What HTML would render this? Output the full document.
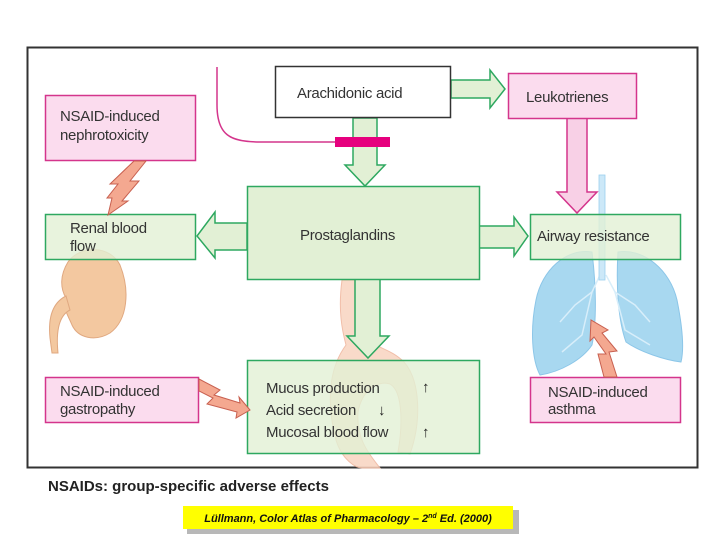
<!DOCTYPE html>
<html><head><meta charset="utf-8"><style>
html,body{margin:0;padding:0;background:#fff;width:720px;height:540px;overflow:hidden}
text{font-family:"Liberation Sans",sans-serif}
</style></head><body>
<svg width="720" height="540" viewBox="0 0 720 540" xmlns="http://www.w3.org/2000/svg">
<rect x="27.5" y="47.5" width="670" height="420" fill="#fff" stroke="#333" stroke-width="2"/>
<!-- kidney -->
<path d="M68,262 C80,245 110,245 120,265 C130,290 128,320 110,333 C95,342 78,338 72,325 C68,315 62,308 66,298 C60,288 60,275 68,262Z" fill="#f3c8a0" stroke="#e0a880"/>
<path d="M66,296 C52,303 48,318 50,338 L52,353 L58,353 C56,333 58,316 70,310Z" fill="#f3c8a0" stroke="#e0a880"/>
<!-- stomach -->
<path d="M342,280 C338,310 342,330 346,345 C326,372 328,410 336,440 C342,460 356,468 362,468 L380,468 C370,455 356,440 358,412 C362,390 378,380 390,384 C404,392 402,430 398,452 L410,454 C422,420 420,380 404,362 C390,348 374,348 368,338 C362,320 360,300 362,280Z" fill="#f9d6c4" stroke="#f0b8a0" opacity="0.9"/>
<!-- lungs -->
<path d="M592,252 C566,248 542,270 536,300 C530,330 532,360 540,375 C560,372 582,360 592,345 C597,320 596,285 592,252Z" fill="#a8d8f0" stroke="#8cc6e8"/>
<path d="M618,252 C644,248 670,270 677,300 C683,330 684,350 681,362 C665,360 640,352 626,342 C618,320 616,285 618,252Z" fill="#a8d8f0" stroke="#8cc6e8"/>
<g stroke="#d8eefa" stroke-width="1.5" fill="none">
<path d="M600,275 L592,292 L575,305 L560,322"/><path d="M592,292 L582,335 L562,352"/>
<path d="M606,275 L615,292 L635,305 L650,322"/><path d="M615,292 L625,330 L650,345"/>
</g>
<rect x="599" y="175" width="6" height="105" fill="#cce8f8" stroke="#9cd0ee" stroke-width="0.8"/>
<!-- magenta inhibition curve -->
<path d="M217,67 L217,105 C217,135 230,142 260,142 L335,142" fill="none" stroke="#d4358c" stroke-width="1.5"/>
<!-- green arrows -->
<g fill="#e2f0d5" stroke="#2ea860" stroke-width="1.5">
<path d="M451,80 L490,80 L490,70 L505,89 L490,108 L490,98 L451,98Z"/>
<path d="M353,118 L353,165 L345,165 L365,186 L385,165 L377,165 L377,118Z"/>
<path d="M247,223 L215,223 L215,212 L197,236 L215,258 L215,250 L247,250Z"/>
<path d="M479,226 L514,226 L514,217 L528,236 L514,256 L514,248 L479,248Z"/>
<path d="M355,279 L355,336 L347,336 L368,358 L389,336 L380,336 L380,279Z"/>
</g>
<rect x="335" y="137" width="55" height="10" fill="#e6007e"/>
<!-- pink arrow -->
<path d="M567,118 L567,192 L557,192 L577,213 L597,192 L587,192 L587,118Z" fill="#f8d0e6" stroke="#d4358c" stroke-width="1.5"/>
<!-- boxes -->
<rect x="275.5" y="66.5" width="175" height="51" fill="#fff" stroke="#333" stroke-width="1.5"/>
<rect x="508.5" y="73.5" width="128" height="45" fill="#fbdcee" stroke="#d4358c" stroke-width="1.5"/>
<rect x="45.5" y="95.5" width="150" height="65" fill="#fbdcee" stroke="#d4358c" stroke-width="1.5"/>
<rect x="45.5" y="214.5" width="150" height="45" fill="#e2f0d5" stroke="#2ea860" stroke-width="1.5" fill-opacity="0.8"/>
<rect x="247.5" y="186.5" width="232" height="93" fill="#e2f0d5" stroke="#2ea860" stroke-width="1.5"/>
<rect x="530.5" y="214.5" width="150" height="45" fill="#e2f0d5" stroke="#2ea860" stroke-width="1.5" fill-opacity="0.8"/>
<rect x="45.5" y="377.5" width="153" height="45" fill="#fbdcee" stroke="#d4358c" stroke-width="1.5"/>
<rect x="247.5" y="360.5" width="232" height="93" fill="#e2f0d5" stroke="#2ea860" stroke-width="1.5" fill-opacity="0.8"/>
<rect x="530.5" y="377.5" width="150" height="45" fill="#fbdcee" stroke="#d4358c" stroke-width="1.5"/>
<!-- lightning bolts -->
<g fill="#f4a890" stroke="#c86050" stroke-width="1">
<path d="M134,161 L146,161 L130,181 L139,181 L122,201 L128,201 L108,215 L112,198 L107,198 L118,184 L110,184Z"/>
<path d="M199,379 L220,390 L214,395 L240,403 L239,397 L250,410 L236,418 L237,412 L207,404 L213,398 L199,391Z"/>
<path d="M604,377 L598,354 L606,354 L594,337 L590,341 L591,320 L608,330 L602,333 L617,351 L609,352 L617,377Z"/>
</g>
<!-- text -->
<g font-size="15" fill="#333" letter-spacing="-0.3">
<text x="297" y="98">Arachidonic acid</text>
<text x="526" y="102">Leukotrienes</text>
<text x="60" y="121">NSAID-induced</text>
<text x="60" y="140">nephrotoxicity</text>
<text x="70" y="233">Renal blood</text>
<text x="70" y="251">flow</text>
<text x="300" y="240">Prostaglandins</text>
<text x="537" y="241">Airway resistance</text>
<text x="60" y="396">NSAID-induced</text>
<text x="60" y="414">gastropathy</text>
<text x="266" y="393">Mucus production</text>
<text x="266" y="415">Acid secretion</text>
<text x="266" y="437">Mucosal blood flow</text>
<text x="548" y="397">NSAID-induced</text>
<text x="548" y="414">asthma</text>
</g>
<g font-size="15" fill="#222" font-weight="bold">
<text x="422" y="392">↑</text>
<text x="378" y="415">↓</text>
<text x="422" y="437">↑</text>
</g>
<text x="48" y="491" font-size="15" font-weight="bold" fill="#222">NSAIDs: group-specific adverse effects</text>
<rect x="187" y="510" width="332" height="24" fill="#b8b8b8"/>
<rect x="183" y="506" width="330" height="23" fill="#ffff00"/>
<text x="348" y="522" font-size="11" font-style="italic" font-weight="bold" text-anchor="middle" fill="#111">Lüllmann, Color Atlas of Pharmacology – 2<tspan font-size="7" dy="-4">nd</tspan><tspan dy="4"> Ed. (2000)</tspan></text>
</svg>
</body></html>
